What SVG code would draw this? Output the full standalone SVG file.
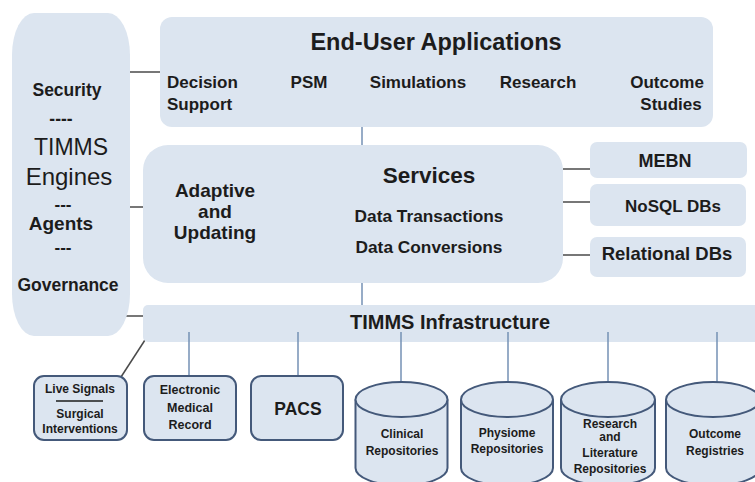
<svg xmlns="http://www.w3.org/2000/svg" width="755" height="482" viewBox="0 0 755 482">
<defs>
<style>
.box{fill:#dce5f0;stroke:none}
.ob{fill:#dce5f0;stroke:#44597a;stroke-width:2}
.t{font-family:"Liberation Sans",Arial,sans-serif;font-weight:bold;fill:#1c1c1c;text-anchor:middle}
.tr{font-family:"Liberation Sans",Arial,sans-serif;font-weight:normal;fill:#1c1c1c;text-anchor:middle}
.k{stroke:#4a4a4a;stroke-width:1.5;fill:none}
.b{stroke:#7590b5;stroke-width:1.5;fill:none}
</style>
</defs>
<rect width="755" height="482" fill="#ffffff"/>

<g id="connectors">
<line class="k" x1="128" y1="72" x2="160" y2="72"/>
<line class="k" x1="127" y1="207" x2="143" y2="207"/>
<line class="k" x1="120" y1="316" x2="143" y2="316"/>
<line class="b" x1="362" y1="127" x2="362" y2="145"/>
<line class="b" x1="362" y1="283" x2="362" y2="305"/>
<line class="k" x1="563" y1="169" x2="590" y2="169"/>
<line class="k" x1="563" y1="202" x2="590" y2="202"/>
<line class="k" x1="563" y1="255" x2="590" y2="255"/>
<line class="k" x1="145" y1="340" x2="121" y2="377"/>
</g>

<g id="governance">
<rect class="box" x="12" y="13" width="118" height="323" rx="22" ry="42"/>
<text class="t" x="67" y="96" font-size="17.5">Security</text>
<text class="t" x="61" y="125" font-size="17.5">----</text>
<text class="tr" x="71" y="155" font-size="23">TIMMS</text>
<text class="tr" x="69" y="185" font-size="24">Engines</text>
<text class="t" x="63" y="210" font-size="17">---</text>
<text class="t" x="61" y="230" font-size="19">Agents</text>
<text class="t" x="63" y="253" font-size="17">---</text>
<text class="t" x="68" y="291" font-size="17.5">Governance</text>
</g>

<g id="end-user-applications">
<rect class="box" x="160" y="17" width="553" height="110" rx="12"/>
<text class="t" x="436" y="50" font-size="23.5">End-User Applications</text>
<text class="t" x="167" y="88" font-size="17" text-anchor="start" style="text-anchor:start">Decision</text>
<text class="t" x="167" y="110" font-size="17" style="text-anchor:start">Support</text>
<text class="t" x="309" y="88" font-size="17">PSM</text>
<text class="t" x="418" y="88" font-size="17">Simulations</text>
<text class="t" x="538" y="88" font-size="17">Research</text>
<text class="t" x="667" y="88" font-size="17">Outcome</text>
<text class="t" x="671" y="110" font-size="17">Studies</text>
</g>

<g id="services">
<rect class="box" x="143" y="145" width="420" height="138" rx="25"/>
<text class="t" x="215" y="197" font-size="19">Adaptive</text>
<text class="t" x="215" y="218" font-size="19">and</text>
<text class="t" x="215" y="239" font-size="19">Updating</text>
<text class="t" x="429" y="183" font-size="22.5">Services</text>
<text class="t" x="429" y="222" font-size="17.3">Data Transactions</text>
<text class="t" x="429" y="253" font-size="17.3">Data Conversions</text>
</g>

<g id="mebn">
<rect class="box" x="590" y="142" width="157" height="36" rx="7"/>
<text class="t" x="665" y="167" font-size="18">MEBN</text>
</g>
<g id="nosql">
<rect class="box" x="590" y="184" width="156" height="42" rx="7"/>
<text class="t" x="673" y="212" font-size="17">NoSQL DBs</text>
</g>
<g id="relational">
<rect class="box" x="590" y="237" width="156" height="40" rx="7"/>
<text class="t" x="667" y="260" font-size="18.5">Relational DBs</text>
</g>

<g id="infrastructure">
<rect class="box" x="143" y="305" width="620" height="37" rx="5"/>
<text class="t" x="450" y="329" font-size="20">TIMMS Infrastructure</text>
</g>

<g id="connectors-down">
<line class="b" x1="189" y1="332" x2="189" y2="376"/>
<line class="b" x1="298" y1="332" x2="298" y2="376"/>
<line class="b" x1="401" y1="332" x2="401" y2="382"/>
<line class="b" x1="508" y1="332" x2="508" y2="382"/>
<line class="b" x1="608" y1="332" x2="608" y2="382"/>
<line class="b" x1="717" y1="332" x2="717" y2="382"/>
</g>

<g id="live-signals">
<rect class="ob" x="34" y="376" width="93" height="64" rx="10"/>
<text class="t" x="80" y="393" font-size="12">Live Signals</text>
<line x1="56" y1="401" x2="103" y2="401" stroke="#1c1c1c" stroke-width="1.3"/>
<text class="t" x="80" y="418" font-size="12">Surgical</text>
<text class="t" x="80" y="433" font-size="12">Interventions</text>
</g>

<g id="emr">
<rect class="ob" x="144" y="376" width="92" height="64" rx="10"/>
<text class="t" x="190" y="394" font-size="12.5">Electronic</text>
<text class="t" x="190" y="412" font-size="12.5">Medical</text>
<text class="t" x="190" y="429" font-size="12.5">Record</text>
</g>

<g id="pacs">
<rect class="ob" x="251" y="376" width="92" height="64" rx="10"/>
<text class="t" x="298" y="415" font-size="17.5">PACS</text>
</g>

<g id="clinical">
<path class="ob" d="M355.5,399.5 L355.5,468 A46,17.5 0 0 0 447.5,468 L447.5,399.5"/>
<ellipse class="ob" cx="401.5" cy="399.5" rx="46" ry="17.5"/>
<text class="t" x="402" y="438" font-size="12">Clinical</text>
<text class="t" x="402" y="455" font-size="12">Repositories</text>
</g>

<g id="physiome">
<path class="ob" d="M461,399.5 L461,468 A46,17.5 0 0 0 553,468 L553,399.5"/>
<ellipse class="ob" cx="507" cy="399.5" rx="46" ry="17.5"/>
<text class="t" x="507" y="437" font-size="12">Physiome</text>
<text class="t" x="507" y="453" font-size="12">Repositories</text>
</g>

<g id="research">
<path class="ob" d="M561,399.5 L561,468 A47,17.5 0 0 0 655,468 L655,399.5"/>
<ellipse class="ob" cx="608" cy="399.5" rx="47" ry="17.5"/>
<text class="t" x="610" y="428" font-size="12">Research</text>
<text class="t" x="610" y="441" font-size="12">and</text>
<text class="t" x="610" y="457" font-size="12">Literature</text>
<text class="t" x="610" y="473" font-size="12">Repositories</text>
</g>

<g id="outcome">
<path class="ob" d="M666,399.5 L666,468 A47,17.5 0 0 0 760,468 L760,399.5"/>
<ellipse class="ob" cx="713" cy="399.5" rx="47" ry="17.5"/>
<text class="t" x="715" y="438" font-size="12">Outcome</text>
<text class="t" x="715" y="455" font-size="12">Registries</text>
</g>
</svg>
